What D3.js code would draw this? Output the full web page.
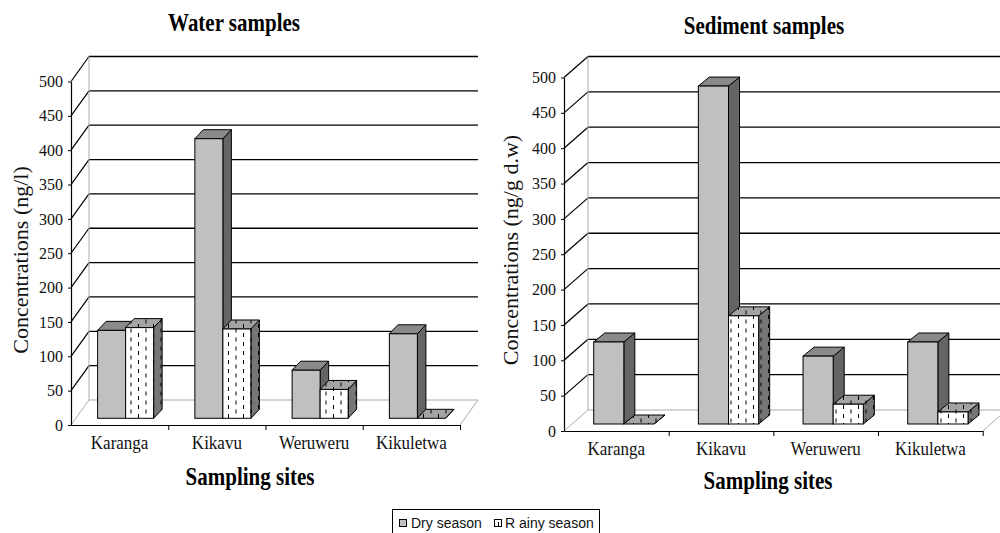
<!DOCTYPE html>
<html>
<head>
<meta charset="utf-8">
<script src="https://cdn.jsdelivr.net/npm/d3@7"></script>
<style>
  body { margin: 0; background: #fff; }
  svg { display: block; }
</style>
</head>
<body>
<svg id="chart" width="1000" height="533"></svg>
<script>
// Sampling sites and seasons
const sites = ["Karanga", "Kikavu", "Weruweru", "Kikuletwa"];
const seasons = ["Dry season", "R ainy season"];

// Concentrations in water (ng/l)
const waterDry = [128, 407, 70, 123];
const waterRainy = [132, 130, 42, 0];

// Concentrations in sediment (ng/g d.w)
const sedimentDry = [116, 478, 96, 116];
const sedimentRainy = [0, 153, 28, 17];

// Value axis ticks
const yTicks = [0, 50, 100, 150, 200, 250, 300, 350, 400, 450, 500];

const serif = "'Liberation Serif', 'Times New Roman', serif";
const sans = "'Liberation Sans', Arial, sans-serif";

const svg = d3.select("#chart");
svg.append("rect").attr("width", 1000).attr("height", 533).attr("fill", "#fff");

// Hatch patterns for the rainy-season columns (white front, grey top, dark side)
const defs = svg.append("defs");
function hatch(id, bg) {
  const p = defs.append("pattern").attr("id", id)
    .attr("patternUnits", "userSpaceOnUse")
    .attr("width", 15).attr("height", 9);
  p.append("rect").attr("width", 15).attr("height", 9).attr("fill", bg);
  p.append("line").attr("x1", 3.5).attr("x2", 3.5).attr("y1", 0).attr("y2", 4)
    .attr("stroke", "#000").attr("stroke-width", 1);
  p.append("line").attr("x1", 11).attr("x2", 11).attr("y1", 4.5).attr("y2", 8.5)
    .attr("stroke", "#000").attr("stroke-width", 1);
}
hatch("hFront", "#ffffff");
hatch("hTop", "#a4a4a4");
hatch("hSide", "#767676");

const panels = [
  {
    title: "Water samples", titleX: 234, titleY: 31,
    yTitle: "Concentrations (ng/l)", yTitleX: 28, yTitleY: 260,
    xTitleX: 250, xTitleY: 485,
    x0: 71, x1: 460, y0: 425, yTop: 81.5,
    wall: [18, -25], barShift: [6, -6.7], barDepth: [8.5, -9],
    dry: waterDry, rainy: waterRainy
  },
  {
    title: "Sediment samples", titleX: 764, titleY: 34,
    yTitle: "Concentrations (ng/g d.w)", yTitleX: 518, yTitleY: 250,
    xTitleX: 768, xTitleY: 489,
    x0: 564, x1: 982.7, y0: 431, yTop: 77.5,
    wall: [24, -21], barShift: [7.5, -7], barDepth: [11, -9],
    dry: sedimentDry, rainy: sedimentRainy
  }
];

// Bold serif heading, slightly tall as in the printed figure
function heading(g, x, y, text) {
  g.append("text")
    .attr("transform", `translate(${x},${y}) scale(1,1.15)`)
    .attr("text-anchor", "middle").attr("font-family", serif)
    .attr("font-weight", "bold").attr("font-size", 21).attr("fill", "#000")
    .text(text);
}

panels.forEach(cfg => {
  const g = svg.append("g");
  const [wx, wy] = cfg.wall;
  const y = d3.scaleLinear().domain([0, 500]).range([cfg.y0, cfg.yTop]);
  const x = d3.scaleBand().domain(sites).range([cfg.x0, cfg.x1])
    .paddingInner(0.424).paddingOuter(0.212);
  const xs = d3.scaleBand().domain(seasons).range([0, x.bandwidth()]);

  const bx0 = cfg.x0 + wx, bx1 = cfg.x1 + wx;

  // Back wall with horizontal gridlines
  g.append("rect").attr("x", bx0).attr("y", y(500) + wy)
    .attr("width", bx1 - bx0).attr("height", y(0) - y(500)).attr("fill", "#fff");
  g.selectAll(".grid").data(yTicks.filter(t => t > 0)).join("line")
    .attr("x1", bx0).attr("x2", bx1)
    .attr("y1", d => y(d) + wy).attr("y2", d => y(d) + wy)
    .attr("stroke", "#000").attr("stroke-width", 1.3);
  // Side wall: diagonals from each tick to the back wall
  g.selectAll(".diag").data(yTicks).join("line")
    .attr("x1", cfg.x0).attr("y1", d => y(d))
    .attr("x2", bx0).attr("y2", d => y(d) + wy)
    .attr("stroke", d => d === 0 ? "#aaa" : "#000")
    .attr("stroke-width", d => d === 0 ? 1 : 1.2);
  // Wall and floor edges
  const edge = "#aaa";
  g.append("line").attr("x1", bx0).attr("x2", bx0)
    .attr("y1", y(0) + wy).attr("y2", y(500) + wy).attr("stroke", edge);
  g.append("line").attr("x1", bx0).attr("x2", bx1)
    .attr("y1", y(0) + wy).attr("y2", y(0) + wy).attr("stroke", edge);
  g.append("line").attr("x1", cfg.x1).attr("y1", y(0))
    .attr("x2", bx1).attr("y2", y(0) + wy).attr("stroke", edge);

  // Value axis
  const yAxis = g.append("g").attr("transform", `translate(${cfg.x0},0)`)
    .call(d3.axisLeft(y).tickValues(yTicks).tickSize(3).tickPadding(5).tickSizeOuter(0));
  yAxis.select(".domain").attr("stroke", "#000").attr("stroke-width", 1.2);
  yAxis.selectAll(".tick line").attr("stroke", "#000");
  yAxis.selectAll("text").attr("font-family", serif).attr("font-size", 16).attr("fill", "#111");

  // Category axis: boundary ticks and site labels
  const bounds = d3.scaleLinear().domain([0, sites.length]).range([cfg.x0, cfg.x1]);
  const xAxis = g.append("g").attr("transform", `translate(0,${cfg.y0})`)
    .call(d3.axisBottom(bounds).tickValues(d3.range(1, sites.length + 1))
      .tickSize(5).tickSizeOuter(0).tickFormat(""));
  xAxis.select(".domain").attr("stroke", "#000").attr("stroke-width", 1.2);
  xAxis.selectAll(".tick line").attr("stroke", "#000");
  const labels = g.append("g").attr("transform", `translate(0,${cfg.y0})`)
    .call(d3.axisBottom(x).tickSize(0).tickPadding(10));
  labels.select(".domain").remove();
  labels.selectAll("text").attr("font-family", serif).attr("font-size", 17)
    .attr("fill", "#111").attr("transform", "scale(1,1.1)");

  // 3-D columns
  const [sx, sy] = cfg.barShift;
  const [dx, dy] = cfg.barDepth;
  const w = xs.bandwidth();
  const styles = {
    "Dry season": { front: "#c0c0c0", top: "#8a8a8a", side: "#656565" },
    "R ainy season": { front: "url(#hFront)", top: "url(#hTop)", side: "url(#hSide)" }
  };
  sites.forEach((site, i) => {
    seasons.forEach((season, k) => {
      const v = (k === 0 ? cfg.dry : cfg.rainy)[i];
      const st = styles[season];
      const xl = x(site) + xs(season) + sx;
      const xr = xl + w;
      const yb = y(0) + sy;
      const yt = y(v) + sy;
      const bar = g.append("g").attr("stroke", "#000").attr("stroke-width", 1)
        .attr("stroke-linejoin", "miter");
      bar.append("polygon")
        .attr("points", [[xr, yt], [xr + dx, yt + dy], [xr + dx, yb + dy], [xr, yb]].join(" "))
        .attr("fill", st.side);
      bar.append("polygon")
        .attr("points", [[xl, yt], [xr, yt], [xr + dx, yt + dy], [xl + dx, yt + dy]].join(" "))
        .attr("fill", st.top);
      bar.append("rect").attr("x", xl).attr("y", yt)
        .attr("width", w).attr("height", yb - yt).attr("fill", st.front);
    });
  });

  // Titles
  heading(g, cfg.titleX, cfg.titleY, cfg.title);
  heading(g, cfg.xTitleX, cfg.xTitleY, "Sampling sites");
  g.append("text")
    .attr("transform", `translate(${cfg.yTitleX},${cfg.yTitleY}) rotate(-90)`)
    .attr("text-anchor", "middle").attr("font-family", serif)
    .attr("font-size", 22).attr("fill", "#111")
    .text(cfg.yTitle);
});

// Legend
const legend = svg.append("g");
legend.append("rect").attr("x", 392.5).attr("y", 509.5)
  .attr("width", 207).attr("height", 40)
  .attr("fill", "#fff").attr("stroke", "#000");
const legendItems = [
  { label: seasons[0], fill: "#c0c0c0", sx: 399.5, tx: 411 },
  { label: seasons[1], fill: "url(#hFront)", sx: 494.5, tx: 505 }
];
legendItems.forEach(it => {
  legend.append("rect").attr("x", it.sx).attr("y", 519.5)
    .attr("width", 7).attr("height", 7)
    .attr("fill", it.fill).attr("stroke", "#000");
  legend.append("text").attr("x", it.tx).attr("y", 527.5)
    .attr("font-family", sans).attr("font-size", 14).attr("fill", "#111")
    .text(it.label);
});
</script>
</body>
</html>
